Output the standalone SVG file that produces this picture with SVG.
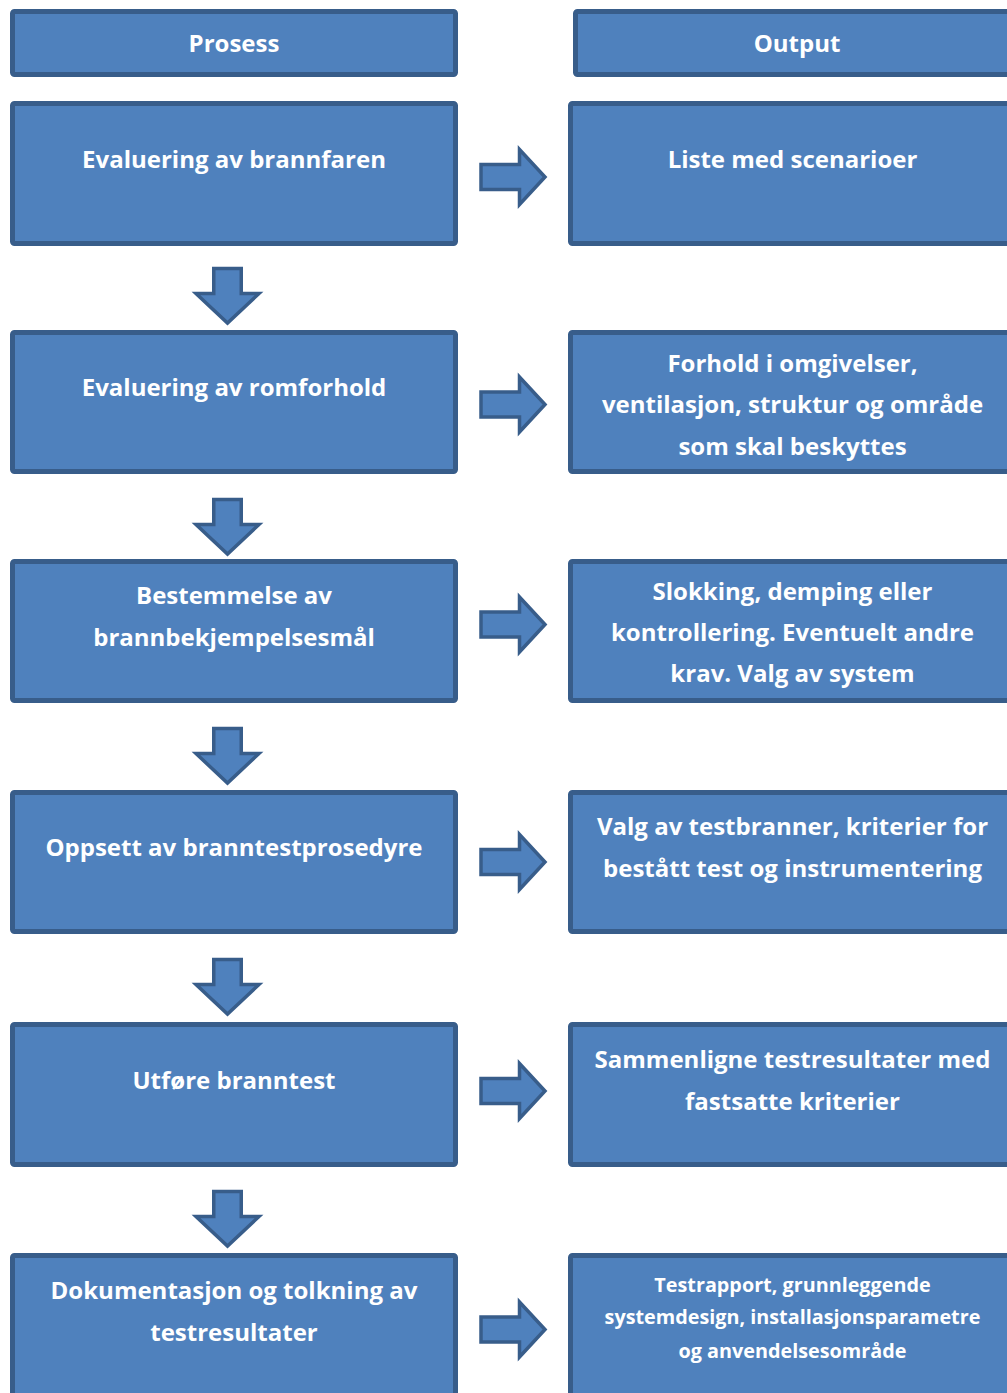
<svg xmlns="http://www.w3.org/2000/svg" width="1007" height="1393" viewBox="0 0 1007 1393">
<style>
.box{fill:#4F81BD;stroke:#385D8A;stroke-width:5}
.arr{fill:#4F81BD;stroke:#385D8A;stroke-width:3.5;stroke-linejoin:miter}
text{font-family:"Open Sans","Noto Sans","DejaVu Sans",sans-serif;font-weight:bold;fill:#FFFFFF;text-anchor:middle;font-size:24px}
.sm{font-size:19.8px}
</style>
<defs>
<path id="ra" d="M0,-12.5 H38.5 V-27.5 L64,0 L38.5,27.5 V12.5 H0 Z"/>
<path id="da" d="M-13.75,0 H13.75 V25 H31.5 L0,54.5 L-31.5,25 H-13.75 Z"/>
</defs>
<rect width="1007" height="1393" fill="#FFFFFF"/>
<g id="connectors">
<use href="#ra" class="arr" x="481" y="177"/>
<use href="#ra" class="arr" x="481" y="404.5"/>
<use href="#ra" class="arr" x="481" y="624.5"/>
<use href="#ra" class="arr" x="481" y="862"/>
<use href="#ra" class="arr" x="481" y="1091"/>
<use href="#ra" class="arr" x="481" y="1329.5"/>
<use href="#da" class="arr" x="227.5" y="268.5"/>
<use href="#da" class="arr" x="227.5" y="499.5"/>
<use href="#da" class="arr" x="227.5" y="728.5"/>
<use href="#da" class="arr" x="227.5" y="959.5"/>
<use href="#da" class="arr" x="227.5" y="1191.5"/>
</g>
<g id="h-prosess"><rect class="box" x="12.5" y="11.5" width="443" height="63" rx="2"/><text x="234" y="52">Prosess</text></g>
<g id="h-output"><rect class="box" x="575.5" y="11.5" width="443" height="63" rx="2"/><text x="797" y="52">Output</text></g>

<g id="p1"><rect class="box" x="12.5" y="103.5" width="443" height="140" rx="2"/><text x="234" y="168">Evaluering av brannfaren</text></g>
<g id="o1"><rect class="box" x="570.5" y="103.5" width="443" height="140" rx="2"/><text x="792.5" y="168">Liste med scenarioer</text></g>

<g id="p2"><rect class="box" x="12.5" y="332.5" width="443" height="139" rx="2"/><text x="234" y="396">Evaluering av romforhold</text></g>
<g id="o2"><rect class="box" x="570.5" y="332.5" width="443" height="139" rx="2"/><text x="792.5" y="371.7">Forhold i omgivelser,</text><text x="792.5" y="413.3">ventilasjon, struktur og område</text><text x="792.5" y="455">som skal beskyttes</text></g>

<g id="p3"><rect class="box" x="12.5" y="561.5" width="443" height="139" rx="2"/><text x="234" y="604">Bestemmelse av</text><text x="234" y="646">brannbekjempelsesmål</text></g>
<g id="o3"><rect class="box" x="570.5" y="561.5" width="443" height="139" rx="2"/><text x="792.5" y="600">Slokking, demping eller</text><text x="792.5" y="641">kontrollering. Eventuelt andre</text><text x="792.5" y="682">krav. Valg av system</text></g>

<g id="p4"><rect class="box" x="12.5" y="792.5" width="443" height="139" rx="2"/><text x="234" y="856">Oppsett av branntestprosedyre</text></g>
<g id="o4"><rect class="box" x="570.5" y="792.5" width="443" height="139" rx="2"/><text x="792.5" y="835">Valg av testbranner, kriterier for</text><text x="792.5" y="877">bestått test og instrumentering</text></g>

<g id="p5"><rect class="box" x="12.5" y="1024.5" width="443" height="140" rx="2"/><text x="234" y="1089">Utføre branntest</text></g>
<g id="o5"><rect class="box" x="570.5" y="1024.5" width="443" height="140" rx="2"/><text x="792.5" y="1068">Sammenligne testresultater med</text><text x="792.5" y="1110">fastsatte kriterier</text></g>

<g id="p6"><rect class="box" x="12.5" y="1255.5" width="443" height="160" rx="2"/><text x="234" y="1299">Dokumentasjon og tolkning av</text><text x="234" y="1341">testresultater</text></g>
<g id="o6"><rect class="box" x="570.5" y="1255.5" width="443" height="160" rx="2"/><text class="sm" x="792.5" y="1291.7">Testrapport, grunnleggende</text><text class="sm" x="792.5" y="1324">systemdesign, installasjonsparametre</text><text class="sm" x="792.5" y="1358">og anvendelsesområde</text></g>
</svg>
